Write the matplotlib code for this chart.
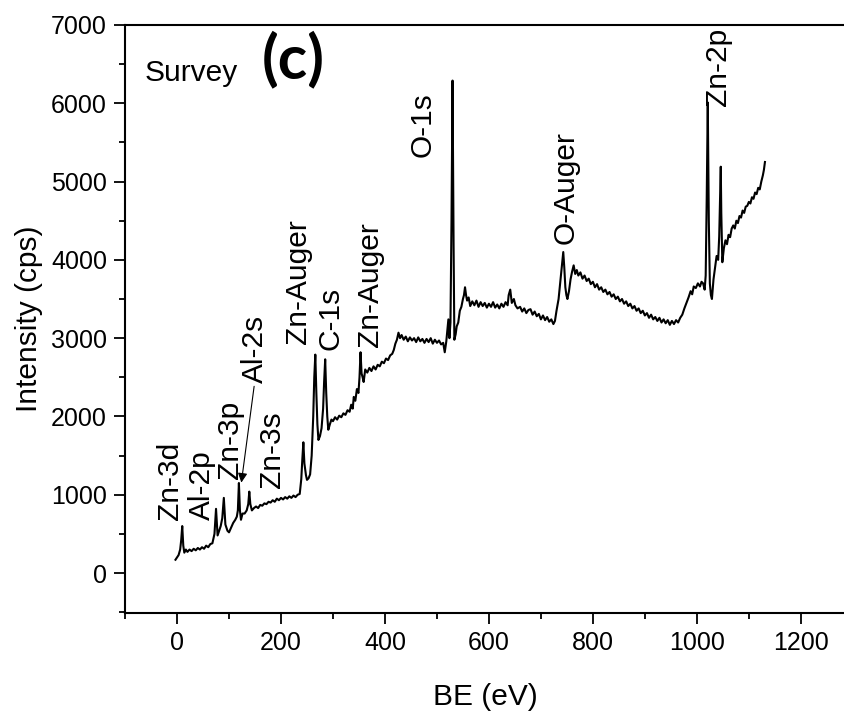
import matplotlib
matplotlib.use("Agg")
import matplotlib.pyplot as plt
from matplotlib.ticker import MultipleLocator

plt.rcParams["font.family"] = ["Liberation Sans", "DejaVu Sans"]

# XPS survey spectrum
spectrum = [
    (-3, 170), (0, 200), (3, 230), (6, 300), (8, 420), (10, 600), (12, 350), (14, 260),
    (17, 300), (20, 270), (24, 300), (28, 280), (32, 310), (36, 290), (40, 320), (44, 300),
    (48, 330), (52, 310), (56, 350), (60, 330), (64, 370), (68, 380), (72, 500), (75, 820),
    (78, 480), (81, 540), (84, 600), (87, 700), (90, 960), (93, 620), (97, 540), (100, 520),
    (104, 580), (108, 640), (112, 680), (115, 720), (117, 800), (119, 1150), (121, 800),
    (123, 680), (126, 760), (130, 760), (134, 800), (137, 880), (139, 1040), (141, 880),
    (144, 800), (148, 830), (152, 850), (156, 830), (160, 870), (164, 860), (168, 890),
    (172, 880), (176, 910), (180, 900), (184, 930), (188, 910), (192, 950), (196, 930),
    (200, 960), (204, 940), (208, 970), (212, 950), (216, 980), (220, 960), (224, 990),
    (228, 970), (232, 1000), (236, 1010), (239, 1200), (241, 1450), (243, 1670), (245, 1400),
    (248, 1250), (250, 1190), (253, 1210), (256, 1260), (259, 1500), (262, 2000), (264, 2500),
    (266, 2790), (268, 2300), (270, 1900), (272, 1700), (275, 1750), (278, 1850), (281, 2100),
    (283, 2450), (285, 2730), (287, 2300), (289, 2000), (291, 1830), (294, 1900), (297, 1960),
    (300, 1940), (304, 1990), (308, 1960), (312, 2010), (316, 1990), (320, 2040), (324, 2020),
    (328, 2080), (332, 2060), (335, 2150), (338, 2100), (340, 2250), (343, 2200), (346, 2350),
    (349, 2300), (351, 2500), (353, 2820), (355, 2550), (357, 2500), (359, 2440), (362, 2600),
    (366, 2560), (370, 2620), (374, 2580), (378, 2640), (382, 2600), (386, 2660), (390, 2640),
    (394, 2700), (398, 2680), (402, 2740), (406, 2720), (410, 2780), (414, 2800), (417, 2850),
    (420, 2930), (423, 2980), (426, 3070), (429, 3000), (432, 3040), (436, 2980), (440, 3020),
    (444, 2960), (448, 3010), (452, 2970), (456, 3000), (460, 2950), (464, 3010), (468, 2960),
    (472, 2990), (476, 2940), (480, 2990), (484, 2950), (488, 3000), (492, 2930), (496, 2980),
    (500, 2940), (504, 2970), (508, 2920), (512, 2940), (515, 2820), (518, 2960), (520, 3100),
    (522, 3240), (524, 3000), (526, 3200), (528, 4500), (530, 6290), (532, 4200), (533.5, 2980),
    (536, 3050), (538, 3150), (541, 3200), (544, 3350), (547, 3400), (550, 3500), (552, 3550),
    (554, 3650), (556, 3550), (558, 3480), (561, 3520), (564, 3410), (568, 3470), (572, 3420),
    (576, 3480), (580, 3400), (584, 3460), (588, 3410), (592, 3450), (596, 3390), (600, 3440),
    (604, 3400), (608, 3460), (612, 3390), (616, 3430), (620, 3380), (624, 3440), (628, 3400),
    (632, 3460), (636, 3420), (638, 3550), (641, 3620), (644, 3450), (648, 3500), (651, 3420),
    (655, 3380), (660, 3400), (664, 3340), (668, 3380), (672, 3320), (676, 3360), (680, 3370),
    (684, 3300), (688, 3340), (692, 3280), (696, 3310), (700, 3240), (704, 3290), (708, 3230),
    (712, 3270), (716, 3210), (720, 3240), (724, 3180), (727, 3220), (730, 3350), (734, 3500),
    (737, 3700), (740, 3900), (743, 4100), (745, 3900), (747, 3650), (749, 3550), (751, 3500),
    (754, 3600), (757, 3750), (760, 3850), (763, 3930), (766, 3820), (769, 3870), (772, 3800),
    (776, 3840), (780, 3760), (784, 3800), (788, 3730), (792, 3760), (796, 3690), (800, 3720),
    (804, 3650), (808, 3690), (812, 3620), (816, 3650), (820, 3590), (824, 3620), (828, 3560),
    (832, 3590), (836, 3530), (840, 3560), (844, 3500), (848, 3530), (852, 3470), (856, 3500),
    (860, 3440), (864, 3470), (868, 3410), (872, 3440), (876, 3380), (880, 3410), (884, 3350),
    (888, 3380), (892, 3320), (896, 3350), (900, 3290), (904, 3320), (908, 3260), (912, 3300),
    (916, 3240), (920, 3270), (924, 3220), (928, 3260), (932, 3200), (936, 3240), (940, 3190),
    (944, 3230), (948, 3170), (952, 3220), (956, 3180), (960, 3230), (964, 3200), (968, 3260),
    (972, 3300), (976, 3380), (980, 3450), (984, 3520), (988, 3600), (991, 3560), (994, 3660),
    (998, 3640), (1002, 3700), (1006, 3660), (1009, 3720), (1012, 3700), (1015, 3620),
    (1017, 3800), (1019, 4800), (1021, 6010), (1023, 4500), (1025, 3700), (1027, 3550),
    (1029, 3500), (1032, 3750), (1035, 3900), (1038, 4050), (1041, 4000), (1043, 4300),
    (1045, 4900), (1046, 5190), (1047, 4600), (1049, 3970), (1052, 4150), (1055, 4250),
    (1058, 4200), (1061, 4320), (1064, 4290), (1067, 4400), (1070, 4440), (1073, 4400),
    (1076, 4500), (1079, 4470), (1082, 4560), (1085, 4540), (1088, 4630), (1091, 4600),
    (1094, 4680), (1097, 4690), (1100, 4740), (1103, 4720), (1106, 4800), (1109, 4780),
    (1112, 4860), (1115, 4840), (1118, 4920), (1121, 4900), (1124, 5000), (1127, 5080),
    (1129, 5150), (1131, 5250),
]
be = [p[0] for p in spectrum]
counts = [p[1] for p in spectrum]

# peak labels: text, x centre, y of lower end
peak_labels = ["Zn-3d", "Al-2p", "Zn-3p", "Zn-3s", "Zn-Auger", "C-1s", "Zn-Auger", "O-1s", "O-Auger", "Zn-2p"]
peak_x = [-13, 48, 102, 183, 233, 295, 372, 473, 747, 1041]
peak_y = [680, 680, 1200, 1090, 2920, 2850, 2890, 5320, 4200, 5970]

fig = plt.figure(figsize=(8.45, 7.14), dpi=100)
ax = fig.add_axes([0.148, 0.1415, 0.852, 0.8235])

ax.plot(be, counts, color="black", lw=1.5)

for txt, x, y in zip(peak_labels, peak_x, peak_y):
    ax.text(x, y, txt, rotation=90, ha="center", va="bottom", fontsize=21.5)

# Al-2s label with arrow down to its peak
ax.text(150, 2430, "Al-2s", rotation=90, ha="center", va="bottom", fontsize=21.5)
ax.annotate("", xy=(123, 1120), xytext=(149, 2420),
            arrowprops=dict(arrowstyle="-|>", color="black", lw=0.8, mutation_scale=14))

ax.text(-63, 6280, "Survey", fontsize=21.5, ha="left", va="baseline")
ax.text(162, 6560, "(c)", fontsize=44, fontweight="bold", family=["Lato", "DejaVu Sans"],
        ha="left", va="center")

ax.set_xlim(-100, 1285)
ax.set_ylim(-510, 7000)
ax.xaxis.set_major_locator(MultipleLocator(200))
ax.xaxis.set_minor_locator(MultipleLocator(100))
ax.yaxis.set_major_locator(MultipleLocator(1000))
ax.yaxis.set_minor_locator(MultipleLocator(500))
ax.tick_params(which="major", direction="out", length=8, width=1.3, labelsize=18, pad=5)
ax.tick_params(which="minor", direction="out", length=4, width=1.3)
ax.spines["right"].set_visible(False)
for s in ["left", "bottom", "top"]:
    ax.spines[s].set_linewidth(1.5)

ax.set_xlabel("BE (eV)", fontsize=21.5, labelpad=20)
ax.set_ylabel("Intensity (cps)", fontsize=21.5, labelpad=6)

fig.savefig("out.png", dpi=100)
